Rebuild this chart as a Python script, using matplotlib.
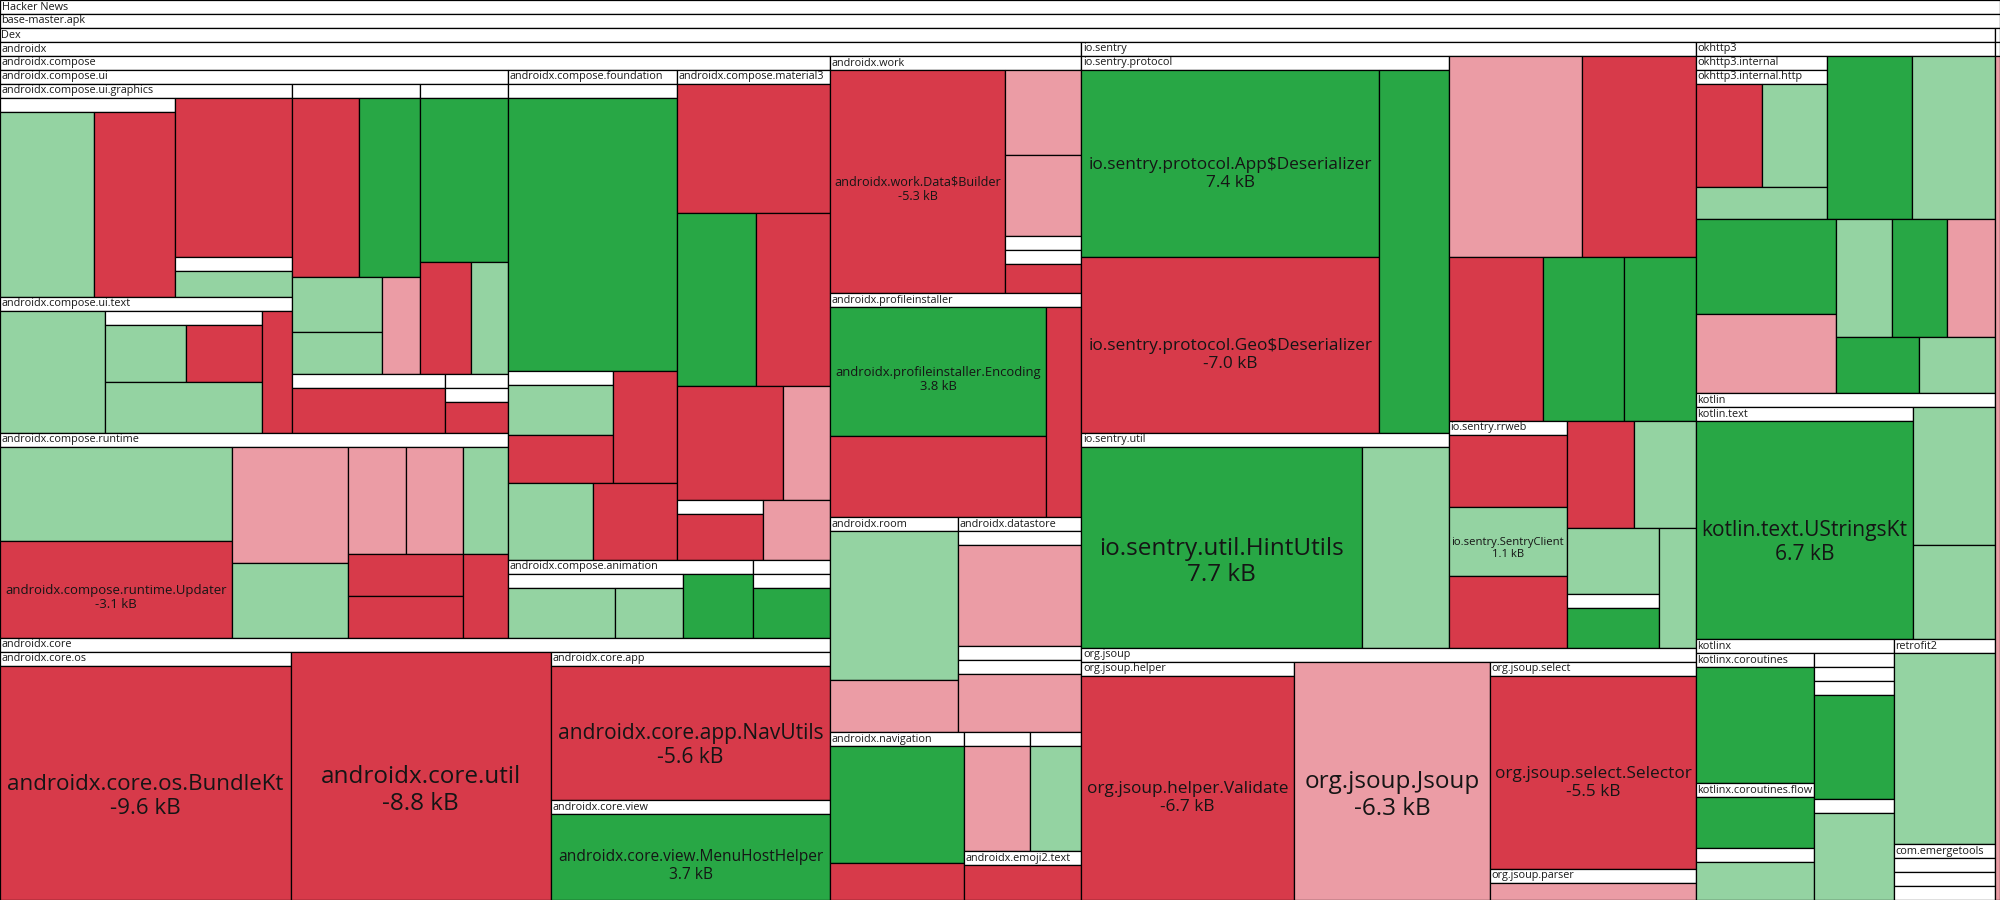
import matplotlib
matplotlib.use("Agg")
import matplotlib.pyplot as plt
from matplotlib.patches import Rectangle

plt.rcParams['font.family'] = ['Open Sans', 'DejaVu Sans']


def P(name, size, *groups):
    # package node: size in kB, children given as the rows of the squarified layout
    return {"name": name, "size": size, "groups": [list(g) for g in groups]}

# leaves are (class name, size change in kB, whole class added/removed)

GRAPHICS = [
    [P("", 4.77, [("", 2.38, False), ("", -2.05, True)])],
    [("", -2.55, True)],
    [P("", 0.64, [("", 0.42, False)])],
]
TEXT = [
    [("", 1.75, False)],
    [P("", 1.53, [("", 0.63, False)], [("", -0.59, True)]), ("", 1.10, False)],
    [("", -0.50, True)],
]
UI = [
    [P("androidx.compose.ui.graphics", 8.52, *GRAPHICS), P("androidx.compose.ui.text", 5.44, *TEXT)],
    [P("", 5.08, [("", -1.64, True), ("", 1.50, True)], [("", 0.68, False), ("", 0.52, False)], [("", -0.50, False)]),
     P("", 3.50, [("", 1.96, True)], [("", -0.77, True), ("", 0.57, False)])],
    [P("", 1.24, [("", -1.0, True)])],
    [P("", 0.51, [P("", 0.4, [("", -0.3, True)])])],
]
RUNTIME = [
    [("", 3.02, False), ("androidx.compose.runtime.Updater", -3.1, True)],
    [("", -1.86, False), ("", 1.20, False)],
    [("", -0.85, False), ("", -0.84, False), ("", 0.67, False)],
    [("", -0.66, True), ("", -0.66, True)],
    [("", -0.53, True)],
]
FOUNDATION = [
    [P("", 6.64, [("", 6.0, True)])],
    [P("", 1.61, [("", 0.73, False), ("", -0.68, True)]), ("", -0.98, True)],
    [("", 0.90, False)],
    [("", -0.89, True)],
]
MATERIAL3 = [
    [("", -2.70, True)],
    [("", 1.88, True), ("", -1.76, True)],
    [("", -1.66, True), ("", -0.75, False)],
    [P("", 0.70, [("", -0.55, True)])],
    [("", -0.55, False)],
]
ANIMATION = [
    [P("", 1.53, [("", 0.73, False)], [("", 0.47, False)])],
    [("", 0.61, True)],
]
COMPOSE = [
    [P("androidx.compose.ui", 25.26, *UI), P("androidx.compose.runtime", 14.27, *RUNTIME)],
    [P("androidx.compose.foundation", 11.34, *FOUNDATION), P("androidx.compose.material3", 10.27, *MATERIAL3)],
    [P("androidx.compose.animation", 2.61, *ANIMATION)],
    [P("", 0.83, [P("", 0.7, [("", 0.5, True)])])],
]
WORK = [
    [("androidx.work.Data$Builder", -5.3, True)],
    [("", -0.88, False)],
    [("", -0.84, False)],
    [P("", 0.59, [P("", 0.5, [("", -0.4, True)])])],
]
PROFILEINSTALLER = [
    [("androidx.profileinstaller.Encoding", 3.8, True), ("", -2.37, True)],
    [("", -1.01, True)],
]
ROOM = [[("", 2.61, False)], [("", -0.91, False)]]
DATASTORE = [
    [P("", 1.94, [("", -1.6, False)])],
    [P("", 1.45, [P("", 1.2, [("", -1.0, False)])])],
]
NAVIGATION = [[("", 2.13, True)], [("", -0.67, True)]]
CORE = [
    [P("androidx.core.os", 9.82, [("androidx.core.os.BundleKt", -9.6, True)])],
    [("androidx.core.util", -8.8, True)],
    [P("androidx.core.app", 5.64, [("androidx.core.app.NavUtils", -5.6, True)]),
     P("androidx.core.view", 3.81, [("androidx.core.view.MenuHostHelper", 3.7, True)])],
]
ANDROIDX = [
    [P("androidx.compose", 66.17, *COMPOSE), P("androidx.core", 29.79, *CORE)],
    [P("androidx.work", 8.15, *WORK)],
    [P("androidx.profileinstaller", 7.70, *PROFILEINSTALLER)],
    [P("androidx.room", 3.77, *ROOM), P("androidx.datastore", 3.62, *DATASTORE)],
    [P("androidx.navigation", 3.06, *NAVIGATION)],
    [P("", 1.09, [("", -0.9, False)]), P("", 0.83, [("", 0.7, False)])],
    [P("androidx.emoji2.text", 0.79, [("", -0.5, True)])],
]
SENTRY_PROTOCOL = [
    [("io.sentry.protocol.App$Deserializer", 7.4, True), ("io.sentry.protocol.Geo$Deserializer", -7.0, True)],
    [("", 3.38, True)],
]
SENTRY_UTIL = [[("io.sentry.util.HintUtils", 7.7, True)], [("", 2.40, False)]]
SENTRY = [
    [P("io.sentry.protocol", 18.90, *SENTRY_PROTOCOL), P("io.sentry.util", 10.78, *SENTRY_UTIL)],
    [("", -3.64, False), ("", -3.12, True)],
    [("", -2.10, True), ("", 1.81, True), ("", 1.61, True)],
    [P("io.sentry.rrweb", 1.39, [("", -1.2, True)]), ("io.sentry.SentryClient", 1.1, False), ("", -1.16, True)],
    [("", -0.99, True), ("", 0.90, False)],
    [("", 0.84, False), P("", 0.68, [("", 0.5, True)])],
    [("", 0.60, False)],
]
JSOUP = [
    [P("org.jsoup.helper", 6.80, [("org.jsoup.helper.Validate", -6.7, True)])],
    [("org.jsoup.Jsoup", -6.3, False)],
    [P("org.jsoup.select", 5.73, [("org.jsoup.select.Selector", -5.5, True)])],
    [P("org.jsoup.parser", 0.86, [("", -0.7, False)])],
]
OKHTTP_HTTP = [[("", -0.93, True), ("", 0.92, False)], [("", 0.57, False)]]
OKHTTP = [
    [P("okhttp3.internal", 2.93, [P("okhttp3.internal.http", 2.5, *OKHTTP_HTTP)]), ("", 1.90, True), ("", 1.85, False)],
    [("", 1.82, True), ("", -1.52, False)],
    [("", 0.91, False), ("", 0.89, True), ("", -0.78, False)],
    [("", 0.64, True)],
    [("", 0.58, False)],
]
KOTLIN = [
    [P("kotlin.text", 6.90, [("kotlin.text.UStringsKt", 6.7, True)])],
    [("", 1.55, False)],
    [("", 1.06, False)],
]
COROUTINES = [
    [("", 1.88, True)],
    [P("kotlinx.coroutines.flow", 1.89, [("", 0.82, True), P("", 0.84, [("", 0.6, False)])])],
]
KOTLINX = [
    [P("kotlinx.coroutines", 3.99, *COROUTINES),
     P("", 2.71, [P("", 2.4, [P("", 2.1, [("", 1.14, True)], [P("", 1.11, [("", 0.9, False)])])])])],
]
RETROFIT = [[("", 2.5, False)]]
EMERGE = [[P("", 0.6, [P("", 0.5, [P("", 0.4, [("", 0.3, False)])])])]]
DEX = [
    [P("androidx", 127.05, *ANDROIDX)],
    [P("io.sentry", 50.97, *SENTRY), P("org.jsoup", 21.20, *JSOUP)],
    [P("okhttp3", 14.38, *OKHTTP)],
    [P("kotlin", 10.08, *KOTLIN)],
    [P("kotlinx", 7.08, *KOTLINX)],
    [P("retrofit2", 2.84, *RETROFIT)],
    [P("com.emergetools", 0.77, *EMERGE)],
]
ROOT = P("Hacker News", 239.0,
         [P("base-master.apk", 239.0,
            [P("Dex", 238.3, *DEX)],
            [P("", 0.6, [P("", 0.5, [("", -0.4, False)])])])])

W, Hpx = 2000, 900
HEADER = 14
COLORS = {(True, True): '#28a745', (True, False): '#94d3a2',
          (False, True): '#d73a4a', (False, False): '#eb9ca5'}

fig = plt.figure(figsize=(20, 9), dpi=100)
ax = fig.add_axes([0, 0, 1, 1])
ax.set_xlim(0, W)
ax.set_ylim(Hpx, 0)
ax.axis('off')
renderer = fig.canvas.get_renderer()


def size_of(n):
    return n["size"] if isinstance(n, dict) else abs(n[1])


def box(x0, y0, x1, y1, color):
    ax.add_patch(Rectangle((x0, y0), x1 - x0, y1 - y0, facecolor=color,
                           edgecolor='black', linewidth=0.9))


def draw_leaf(leaf, x0, y0, x1, y1):
    name, kb, whole = leaf
    box(x0, y0, x1, y1, COLORS[(kb > 0, whole)])
    if not name:
        return
    t = ax.text((x0 + x1) / 2, (y0 + y1) / 2, f"{name}\n{kb:.1f} kB",
                ha='center', va='center', fontsize=10, linespacing=1.15, color='#151515')
    w = t.get_window_extent(renderer).width
    fs = min(10 * 0.95 * (x1 - x0) / w, 17.5)
    t.set_fontsize(fs)
    # the label block sits a little below the middle of the cell
    t.set_y((y0 + y1) / 2 + 0.6 * fs * 100 / 72)


def draw(node, x0, y0, x1, y1):
    if not isinstance(node, dict):
        draw_leaf(node, x0, y0, x1, y1)
        return
    hb = min(HEADER, y1 - y0)
    box(x0, y0, x1, y0 + hb, 'white')
    if node["name"]:
        t = ax.text(x0 + 1.5, y0 + hb / 2, node["name"], ha='left', va='center',
                    fontsize=7.8, color='#1a1a1a')
        t.set_clip_path(Rectangle((x0, y0), x1 - x0, hb, transform=ax.transData))
    y0 += HEADER
    if y1 - y0 < 1:
        return
    remaining = sum(size_of(c) for g in node["groups"] for c in g)
    for g in node["groups"]:
        gs = sum(size_of(c) for c in g)
        dx, dy = x1 - x0, y1 - y0
        if dx < dy:
            h = dy * gs / remaining
            cx = x0
            for c in g:
                cw = dx * size_of(c) / gs
                draw(c, cx, y0, cx + cw, y0 + h)
                cx += cw
            y0 += h
        else:
            cw = dx * gs / remaining
            cy = y0
            for c in g:
                h = dy * size_of(c) / gs
                draw(c, x0, cy, x0 + cw, cy + h)
                cy += h
            x0 += cw
        remaining -= gs


draw(ROOT, 0, 0, W, Hpx)
fig.savefig("out.png", dpi=100)
